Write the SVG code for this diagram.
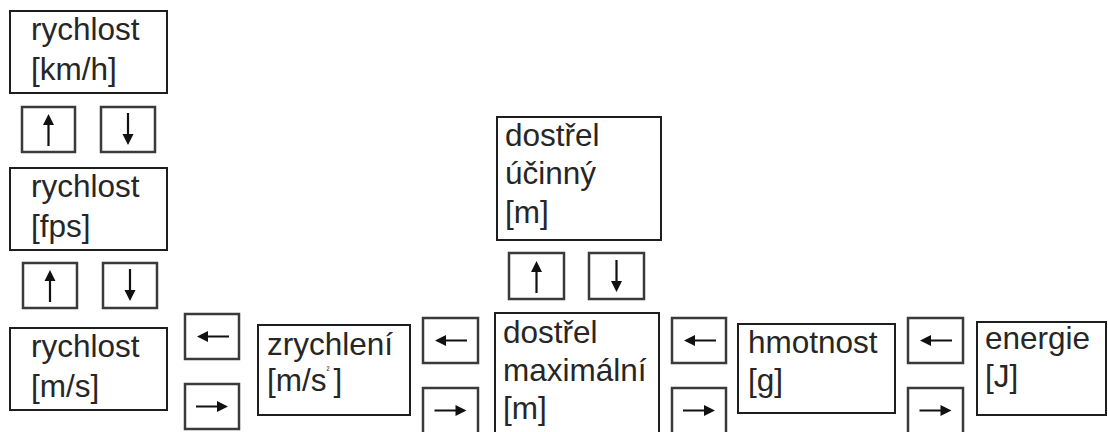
<svg xmlns="http://www.w3.org/2000/svg" width="1108" height="432" viewBox="0 0 1108 432">
<style>
.box{fill:#fff;stroke:#1e1e1e;stroke-width:2}
.btn{fill:#fff;stroke:#3a3a3a;stroke-width:2.5}
.t{font-family:"Liberation Sans",Arial,sans-serif;font-size:31.5px;fill:#262626}
.a{fill:#111}
</style>
<defs>
<path id="arr" d="M0,-16 L-5.5,-5 L-1.1,-5 L-1.1,16 L1.1,16 L1.1,-5 L5.5,-5 Z"/>
</defs>
<rect width="1108" height="432" fill="#fff"/>
<g id="n-kmh">
<rect class="box" x="10" y="11" width="157" height="82"/>
<text class="t" x="31" y="40">rychlost</text>
<text class="t" x="31" y="80">[km/h]</text>
</g>
<g id="n-fps">
<rect class="box" x="10" y="168" width="157" height="82"/>
<text class="t" x="31" y="197">rychlost</text>
<text class="t" x="31" y="237">[fps]</text>
</g>
<g id="n-ms">
<rect class="box" x="10" y="328" width="157" height="82"/>
<text class="t" x="31" y="357">rychlost</text>
<text class="t" x="31" y="397">[m/s]</text>
</g>
<g id="n-zrychleni">
<rect class="box" x="258" y="325" width="152" height="90"/>
<text class="t" x="267" y="355">zrychlení</text>
<text class="t" x="267" y="391">[m/s<tspan font-size="9" dy="-18">²</tspan><tspan dy="18" dx="4">]</tspan></text>
</g>
<g id="n-ucinny">
<rect class="box" x="497" y="117" width="164" height="123"/>
<text class="t" x="505" y="146">dostřel</text>
<text class="t" x="505" y="184">účinný</text>
<text class="t" x="505" y="223">[m]</text>
</g>
<g id="n-max">
<rect class="box" x="495" y="313" width="164" height="130"/>
<text class="t" x="503" y="343">dostřel</text>
<text class="t" x="503" y="381">maximální</text>
<text class="t" x="503" y="419">[m]</text>
</g>
<g id="n-hmotnost">
<rect class="box" x="738" y="324" width="157" height="89"/>
<text class="t" x="748" y="353">hmotnost</text>
<text class="t" x="748" y="391">[g]</text>
</g>
<g id="n-energie">
<rect class="box" x="977" y="322" width="129" height="93"/>
<text class="t" x="985" y="349">energie</text>
<text class="t" x="985" y="387">[J]</text>
</g>
<g id="connectors">
<rect class="btn" x="22" y="107" width="53" height="45"/>
<use href="#arr" class="a" transform="translate(48.5,130)"/>
<rect class="btn" x="101" y="107" width="54" height="45"/>
<use href="#arr" class="a" transform="translate(128,129) rotate(180)"/>
<rect class="btn" x="23" y="263" width="54" height="45"/>
<use href="#arr" class="a" transform="translate(50,286)"/>
<rect class="btn" x="103" y="263" width="54" height="45"/>
<use href="#arr" class="a" transform="translate(130,285) rotate(180)"/>
<rect class="btn" x="509" y="253" width="55" height="46"/>
<use href="#arr" class="a" transform="translate(536.5,277)"/>
<rect class="btn" x="589" y="253" width="55" height="46"/>
<use href="#arr" class="a" transform="translate(616.5,276) rotate(180)"/>
<rect class="btn" x="185" y="314" width="54" height="45"/>
<use href="#arr" class="a" transform="translate(213,336.5) rotate(-90)"/>
<rect class="btn" x="185" y="384" width="54" height="45"/>
<use href="#arr" class="a" transform="translate(212,406.5) rotate(90)"/>
<rect class="btn" x="423" y="318" width="55" height="45"/>
<use href="#arr" class="a" transform="translate(451,340.5) rotate(-90)"/>
<rect class="btn" x="423" y="388" width="55" height="50"/>
<use href="#arr" class="a" transform="translate(450.5,410.5) rotate(90)"/>
<rect class="btn" x="672" y="318" width="54" height="45"/>
<use href="#arr" class="a" transform="translate(700,340.5) rotate(-90)"/>
<rect class="btn" x="672" y="388" width="54" height="50"/>
<use href="#arr" class="a" transform="translate(699,410.5) rotate(90)"/>
<rect class="btn" x="908" y="318" width="55" height="45"/>
<use href="#arr" class="a" transform="translate(936,340.5) rotate(-90)"/>
<rect class="btn" x="908" y="388" width="55" height="50"/>
<use href="#arr" class="a" transform="translate(935.5,410.5) rotate(90)"/>
</g>
</svg>
